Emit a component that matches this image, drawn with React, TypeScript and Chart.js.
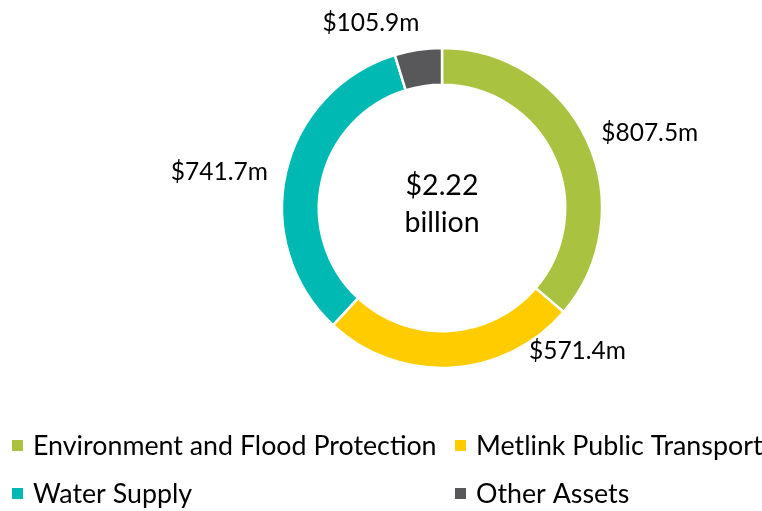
import React, { useEffect, useRef } from "react";
import { Chart, registerables } from "chart.js";

Chart.register(...registerables);

const categories = [
  "Environment and Flood Protection",
  "Metlink Public Transport",
  "Water Supply",
  "Other Assets",
];
const values = [807.5, 571.4, 741.7, 105.9];
const valueLabels = ["$807.5m", "$571.4m", "$741.7m", "$105.9m"];
const colors = ["#A9C23F", "#FFCC00", "#00B9B2", "#58585A"];
const centerLines = ["$2.22", "billion"];

// label placement (polar: degrees from 3 o'clock, distance as multiple of outer radius)
const labelAngles = [-19.8, 46.5, 189.2, -111];
const labelDist = [1.38, 1.23, 1.41, 1.24];

const FONT = "Lato, 'Open Sans', sans-serif";

const overlayPlugin = {
  id: "overlay",
  afterDraw(chart: any) {
    const ctx = chart.ctx;
    const meta = chart.getDatasetMeta(0);
    const arc0 = meta.data[0];
    const cx = arc0.x;
    const cy = arc0.y;
    const R = arc0.outerRadius;
    ctx.save();
    ctx.fillStyle = "#000";
    ctx.textAlign = "center";
    ctx.textBaseline = "middle";
    ctx.font = `24.5px ${FONT}`;
    valueLabels.forEach((t, i) => {
      const a = (labelAngles[i] * Math.PI) / 180;
      const d = labelDist[i] * R;
      ctx.fillText(t, cx + Math.cos(a) * d, cy + Math.sin(a) * d);
    });
    ctx.font = `28.5px ${FONT}`;
    ctx.fillText(centerLines[0], cx, cy - 22);
    ctx.fillText(centerLines[1], cx, cy + 15);

    // legend
    const colX = [12, 455];
    const rowY = [446, 494];
    ctx.textAlign = "left";
    ctx.font = `26.8px ${FONT}`;
    categories.forEach((c, i) => {
      const x = colX[i % 2];
      const y = rowY[Math.floor(i / 2)];
      ctx.fillStyle = colors[i];
      ctx.fillRect(x, y - 6, 11, 11);
      ctx.fillStyle = "#000";
      ctx.fillText(c, x + 21, y);
    });
    ctx.restore();
  },
};

export default function App() {
  const ref = useRef<HTMLCanvasElement | null>(null);
  useEffect(() => {
    if (!ref.current) return;
    const chart = new Chart(ref.current, {
      type: "doughnut",
      data: {
        labels: categories,
        datasets: [
          {
            data: values,
            backgroundColor: colors,
            borderColor: "#fff",
            borderWidth: 2.5,
          },
        ],
      },
      options: {
        animation: false,
        responsive: false,
        cutout: "77%",
        layout: { padding: { left: 280.75, right: 158.75, top: 46.75, bottom: 141.75 } },
        plugins: {
          legend: { display: false },
          tooltip: { enabled: false },
        },
      },
      plugins: [overlayPlugin],
    });
    return () => chart.destroy();
  }, []);
  return (
    <div style={{ position: "fixed", left: 0, top: 0, width: 762, height: 511, background: "#fff" }}>
      <canvas ref={ref} width={762} height={511} style={{ width: 762, height: 511 }} />
    </div>
  );
}
